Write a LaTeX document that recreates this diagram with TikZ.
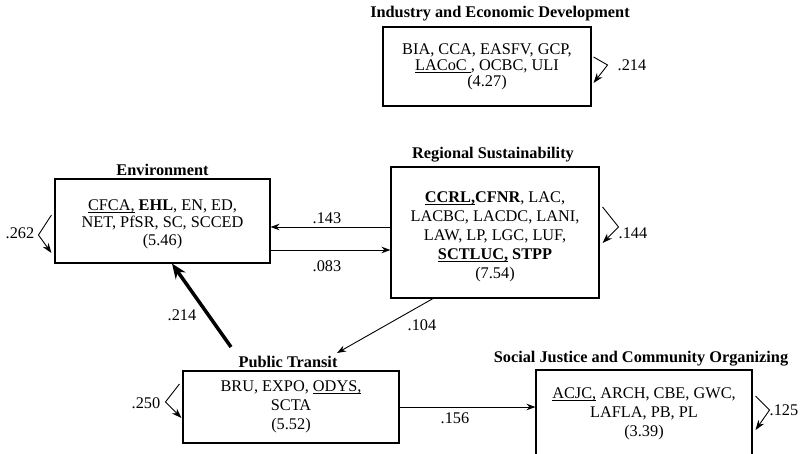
\documentclass[tikz,border=0pt]{standalone}
\usepackage{fontspec}
\setmainfont{Liberation Serif}
\usetikzlibrary{arrows.meta,calc}
\newcommand\myul[1]{\setbox0=\hbox{#1}\rlap{\rule[-2.6pt]{\wd0}{0.9pt}}\box0\relax}
\begin{document}
\begin{tikzpicture}[x=1pt,y=-1pt,
 box/.style={draw,line width=1.1pt,inner sep=0pt,align=center,font=\fontsize{16.3}{19}\selectfont},
 ttl/.style={font=\fontsize{16.3}{19}\selectfont\bfseries,inner sep=0pt},
 lbl/.style={font=\fontsize{16.3}{19}\selectfont,inner sep=0pt},
 arr/.style={-{Stealth[length=9pt,width=6.5pt]},line width=0.9pt},
 selfloop/.style={-{Stealth[length=10pt,width=7pt]},line width=0.9pt},
 heavy/.style={-{Stealth[length=15pt,width=12pt]},line width=3.5pt}]
\useasboundingbox (0,0) rectangle (803,454);

% boxes
\node[box,minimum width=208pt,minimum height=79pt,font=\fontsize{16.3}{16}\selectfont] (ind) at (487,66.5)
 {BIA, CCA, EASFV, GCP,\\ \myul{LACoC\ }, OCBC, ULI\\ (4.27)};
\node[ttl] (indt) at (500,14) {Industry and Economic Development};

\node[box,minimum width=215pt,minimum height=84pt,font=\fontsize{16.3}{17.5}\selectfont] (env) at (162.5,221)
 {\rule{0pt}{17pt}\myul{CFCA,} \textbf{EHL}, EN, ED,\\ NET, PfSR, SC, SCCED\\ (5.46)};
\node[ttl] (envt) at (162.5,170) {Environment};

\node[box,minimum width=208pt,minimum height=131pt] (reg) at (495,232.5)
 {\rule{0pt}{19pt}\textbf{\myul{CCRL,}CFNR}, LAC,\\ LACBC, LACDC, LANI,\\ LAW, LP, LGC, LUF,\\ \textbf{\myul{SCTLUC,} STPP}\\ (7.54)};
\node[ttl] (regt) at (493,155) {Regional Sustainability};

\node[box,minimum width=216pt,minimum height=72pt] (pt) at (291,407)
 {BRU, EXPO, \myul{ODYS,}\\ SCTA\\ (5.52)};
\node[ttl] (ptt) at (288,362) {Public Transit};

\node[box,minimum width=216pt,minimum height=88pt] (sj) at (644,414)
 {\myul{ACJC,} ARCH, CBE, GWC,\\ LAFLA, PB, PL\\ (3.39)};
\node[ttl] (sjt) at (641,359) {Social Justice and Community Organizing};

% helper coordinates
\coordinate (h1) at (0,227);
\coordinate (h2) at (0,250);
\coordinate (tk) at (172,0);
\coordinate (tkstart) at (231,347);
\coordinate (rs) at (433,0);
\coordinate (pttip) at (337,353);

% connectors
\draw[arr] (reg.west |- h1) -- (env.east |- h1);
\draw[arr] (env.east |- h2) -- (reg.west |- h2);
\draw[arr] (reg.south -| rs) -- (pttip);
\draw[heavy] (tkstart) -- (env.south -| tk);
\draw[arr] (pt.east) -- (pt.east -| sj.west);

% self loops
\draw[selfloop] ($(ind.east)+(2,-9.5)$) -- ($(ind.east)+(16,-1.5)$) -- ($(ind.east)+(2,16.5)$);
\draw[selfloop] ($(env.west)+(-3,-6)$) -- ($(env.west)+(-16,14)$) -- ($(env.west)+(-3,32)$);
\draw[selfloop] ($(reg.east)+(3,-25.5)$) -- ($(reg.east)+(19,-5.5)$) -- ($(reg.east)+(3,10.5)$);
\draw[selfloop] ($(pt.west)+(-3,-23)$) -- ($(pt.west)+(-17,-5)$) -- ($(pt.west)+(-1,11)$);
\draw[selfloop] ($(sj.east)+(3,-18)$) -- ($(sj.east)+(17,-4)$) -- ($(sj.east)+(3,16)$);

% labels
\node[lbl] (l143) at (327,218) {.143};
\node[lbl] (l083) at (327,266) {.083};
\node[lbl] (l104) at (422,325) {.104};
\node[lbl] (l214b) at (182,315) {.214};
\node[lbl] (l156) at (455,418) {.156};
\node[lbl] (l214a) at (632,65) {.214};
\node[lbl] (l262) at (20,233) {.262};
\node[lbl] (l144) at (633,233) {.144};
\node[lbl] (l250) at (146,403) {.250};
\node[lbl] (l125) at (784,410) {.125};
\end{tikzpicture}
\end{document}
